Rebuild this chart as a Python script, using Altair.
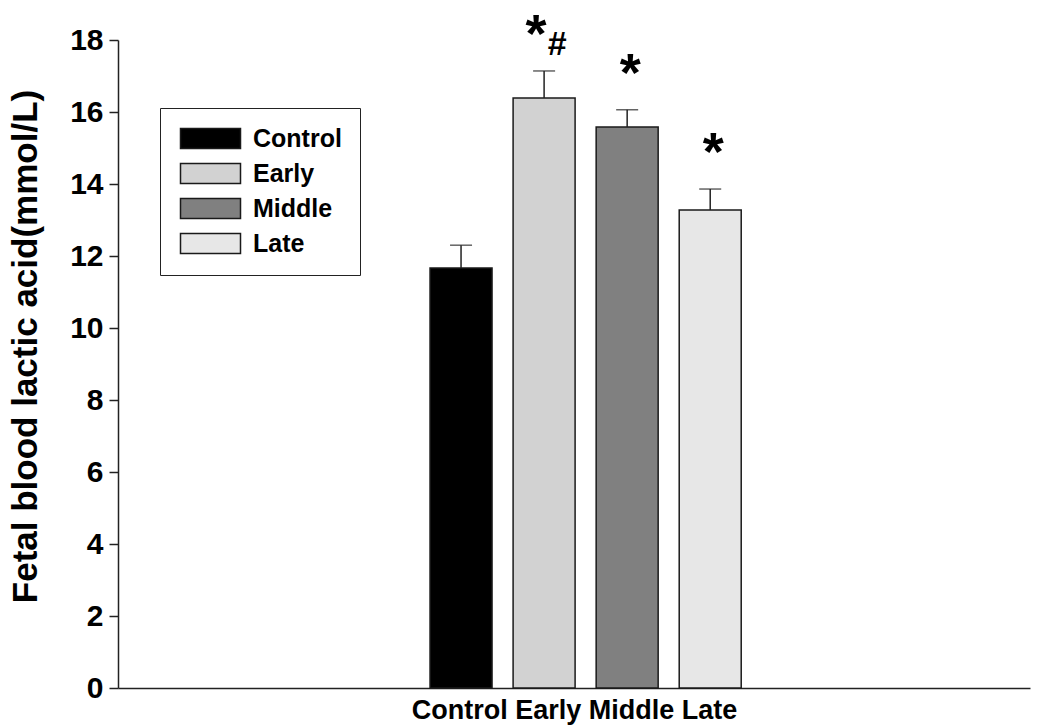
import altair as alt
import pandas as pd

groups = ["Control", "Early", "Middle", "Late"]
positions = [0, 1, 2, 3]
means = [11.67, 16.39, 15.58, 13.28]
err_tops = [12.30, 17.14, 16.06, 13.86]
stars = ["", "*", "*", "*"]
hashes = ["", "#", "", ""]
colors = ["#000000", "#d2d2d2", "#808080", "#e7e7e7"]

df = pd.DataFrame({
    "group": groups, "pos": positions, "mean": means, "err": err_tops,
    "star": stars, "hash": hashes,
})

FONT = "Liberation Sans"

x_scale = alt.Scale(domain=[-4.07, 6.79], nice=False, zero=False)
y_scale = alt.Scale(domain=[0, 18], nice=False)

base = alt.Chart(df)

bars = base.mark_bar(size=62, stroke="#1a1a1a", strokeWidth=1.5).encode(
    x=alt.X("pos:Q", scale=x_scale,
            axis=alt.Axis(title="Control Early Middle Late", labels=False, ticks=False,
                          grid=False, domainColor="#222222", domainWidth=1.5,
                          titleFont=FONT, titleFontSize=27, titleFontWeight="bold",
                          titleColor="#000000", titlePadding=9)),
    y=alt.Y("mean:Q", scale=y_scale,
            axis=alt.Axis(title="Fetal blood lactic acid(mmol/L)", values=list(range(0, 19, 2)),
                          grid=False, domainColor="#222222", domainWidth=1.5,
                          tickColor="#222222", tickWidth=1.5, tickSize=9,
                          labelFont=FONT, labelFontSize=30, labelFontWeight="bold",
                          labelColor="#000000", labelPadding=6,
                          titleFont=FONT, titleFontSize=35, titleFontWeight="bold",
                          titleColor="#000000", titleAngle=-90, titleAlign="center",
                          titleBaseline="middle", titleX=-93, titleY=306)),
    color=alt.Color("group:N", scale=alt.Scale(domain=groups, range=colors),
                    sort=groups,
                    legend=alt.Legend(title=None, orient="none", legendX=42, legendY=68,
                                      symbolType="M-1,-1H5V1H-1Z", symbolSize=400,
                                      symbolStrokeColor="#1a1a1a", symbolStrokeWidth=1.5,
                                      labelFont=FONT, labelFontSize=25, labelFontWeight="bold",
                                      labelColor="#000000", labelOffset=50,
                                      strokeColor="#222222", fillColor="white",
                                      padding=18, rowPadding=8)),
)

err_rule = base.mark_rule(color="#222222", strokeWidth=1.5).encode(
    x="pos:Q", y="mean:Q", y2="err:Q")
err_cap = base.mark_tick(color="#222222", thickness=1.5, size=22, orient="horizontal").encode(
    x="pos:Q", y="err:Q")

star_early = base.transform_filter(alt.datum.hash != "").mark_text(
    font=FONT, fontSize=54, fontWeight="bold", color="#000000",
    baseline="middle", dx=-8, dy=-35).encode(x="pos:Q", y="err:Q", text="star:N")
star_other = base.transform_filter(alt.datum.hash == "").mark_text(
    font=FONT, fontSize=54, fontWeight="bold", color="#000000",
    baseline="middle", dx=3, dy=-35).encode(x="pos:Q", y="err:Q", text="star:N")
hash_text = base.mark_text(font=FONT, fontSize=34, fontWeight="bold", color="#000000",
                           baseline="middle", dx=13, dy=-26).encode(
    x="pos:Q", y="err:Q", text="hash:N")

chart = alt.layer(bars, err_rule, err_cap, star_early, star_other, hash_text).properties(
    width=912, height=648, autosize="none",
    padding={"left": 118, "top": 40, "right": 13, "bottom": 37},
    background="white",
).configure_view(stroke=None)

chart.save("out.html", embed_options={"renderer": "svg", "actions": False})
